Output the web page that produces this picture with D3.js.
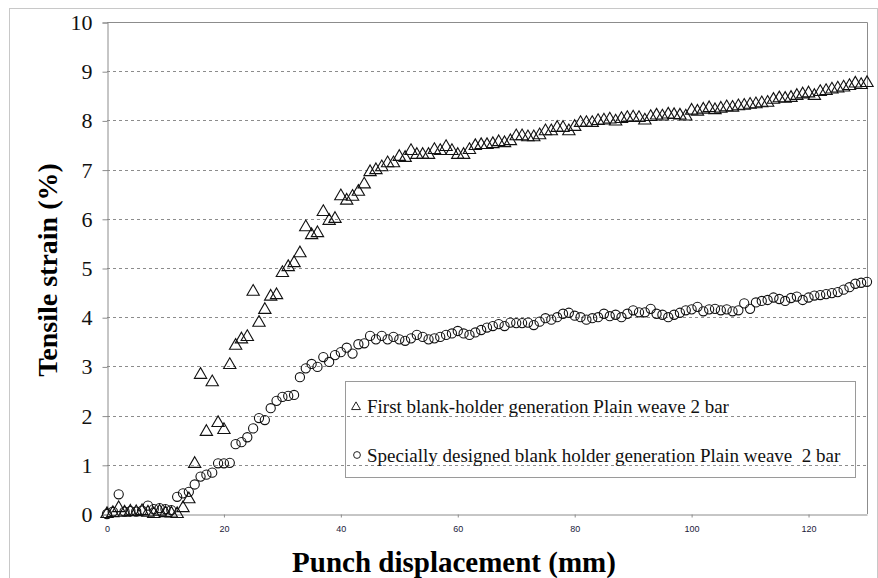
<!DOCTYPE html>
<html>
<head>
<meta charset="utf-8">
<script src="https://cdn.jsdelivr.net/npm/d3@7"></script>
<style>
  body { margin: 0; background: #fff; }
  svg { display: block; }
</style>
</head>
<body>
<svg id="drawspace" width="878" height="578"></svg>
<script>
// punch displacement (mm), one reading per mm
const displacement = d3.range(0, 131);

// first blank-holder generation, plain weave 2 bar
const firstStrain = [
  0, 0.02, 0.12, 0.03, 0.05, 0.04, 0.06, 0.03, 0.0, 0.05,
  0.02, 0.01, 0.0, 0.12, 0.3, 1.02, 2.83, 1.67, 2.68, 1.85,
  1.71, 3.03, 3.42, 3.55, 3.6, 4.52, 3.89, 4.15, 4.42, 4.45,
  4.9, 5.02, 5.1, 5.3, 5.83, 5.67, 5.71, 6.14, 5.96, 6.0,
  6.46, 6.37, 6.45, 6.55, 6.7, 6.95, 6.99, 7.05, 7.13, 7.13,
  7.26, 7.24, 7.38, 7.3, 7.3, 7.3, 7.4, 7.38, 7.46, 7.38,
  7.3, 7.3, 7.4, 7.48, 7.5, 7.5, 7.52, 7.56, 7.54, 7.58,
  7.68, 7.68, 7.66, 7.66, 7.7, 7.78, 7.78, 7.85, 7.85, 7.78,
  7.87, 7.95, 7.95, 7.95, 7.99, 8.0, 8.02, 7.98, 8.03, 8.05,
  8.06, 8.05, 8.0, 8.07, 8.1, 8.08, 8.12, 8.11, 8.1, 8.08,
  8.2, 8.18, 8.22, 8.25, 8.21, 8.24, 8.27, 8.26, 8.29, 8.3,
  8.32, 8.33, 8.35, 8.36, 8.42, 8.45, 8.44, 8.46, 8.5, 8.53,
  8.55, 8.5, 8.58, 8.6, 8.63, 8.65, 8.67, 8.7, 8.75, 8.72,
  8.76
];

// specially designed blank holder generation, plain weave 2 bar
const specialStrain = [
  0.0, 0.05, 0.4, 0.05, 0.06, 0.05, 0.07, 0.17, 0.1, 0.12,
  0.1, 0.08, 0.35, 0.42, 0.45, 0.6, 0.76, 0.8, 0.84, 1.03,
  1.03, 1.04, 1.42, 1.46, 1.56, 1.74, 1.95, 1.91, 2.15, 2.3,
  2.38, 2.4, 2.42, 2.78, 2.96, 3.05, 2.99, 3.19, 3.09, 3.23,
  3.29, 3.38, 3.26, 3.45, 3.47, 3.62, 3.55, 3.62, 3.55, 3.6,
  3.55, 3.52, 3.57, 3.64, 3.6, 3.55, 3.57, 3.6, 3.64, 3.67,
  3.72, 3.67, 3.64, 3.69, 3.74, 3.79, 3.82, 3.86, 3.82, 3.89,
  3.88, 3.88, 3.89, 3.84, 3.91, 3.98, 3.95, 4.0, 4.07, 4.09,
  4.03, 4.0, 3.95, 3.98, 4.0, 4.07, 4.02, 4.05, 4.0, 4.07,
  4.14, 4.1, 4.1, 4.17, 4.07, 4.05, 4.0, 4.05, 4.09, 4.14,
  4.16, 4.21, 4.12, 4.16, 4.17, 4.14, 4.16, 4.12, 4.14, 4.28,
  4.17, 4.3, 4.33, 4.35, 4.4, 4.37, 4.33, 4.39, 4.42, 4.35,
  4.4, 4.44, 4.45, 4.47, 4.49, 4.51, 4.56, 4.61, 4.68, 4.7,
  4.72
];

const yTicks = [0, 1, 2, 3, 4, 5, 6, 7, 8, 9, 10];
const xTicks = [0, 20, 40, 60, 80, 100, 120];
const legendLabels = [
  "First blank-holder generation Plain weave 2 bar",
  "Specially designed blank holder generation Plain weave  2 bar"
];

let drawspace = d3.select("#drawspace");
const plotLeft = 107, plotTop = 22, plotRight = 867, plotBottom = 514;
const serif = "'Liberation Serif', 'Times New Roman', Times, serif";

// outer chart frame
drawspace.append("rect")
  .attr("x", 9.5).attr("y", 8.5)
  .attr("width", 868).attr("height", 600)
  .attr("fill", "none")
  .attr("stroke", "#c8c8c8");

var xScale = d3.scaleLinear().domain([0, 130]).range([plotLeft, plotRight]);
var yScale = d3.scaleLinear().domain([0, 10]).range([plotBottom, plotTop]);

// gridlines
drawspace.append("g")
  .selectAll("line")
  .data(yTicks.filter((d) => d > 0 && d < 10))
  .enter()
  .append("line")
  .attr("x1", plotLeft).attr("x2", plotRight)
  .attr("y1", (d) => Math.round(yScale(d)) + 0.5)
  .attr("y2", (d) => Math.round(yScale(d)) + 0.5)
  .attr("stroke", "#8c8c8c")
  .attr("stroke-dasharray", "3,3");

// plot area frame (top and right)
drawspace.append("path")
  .attr("d", `M${plotLeft},${plotTop + 0.5}H${plotRight + 0.5}V${plotBottom}`)
  .attr("fill", "none")
  .attr("stroke", "#8c8c8c");

// y axis
var yAxis = drawspace.append("g")
  .attr("transform", "translate(" + (plotLeft + 0.5) + ",0.5)")
  .call(d3.axisLeft(yScale).tickValues(yTicks).tickSize(5).tickPadding(10));
yAxis.select(".domain").attr("stroke", "#8c8c8c");
yAxis.selectAll(".tick line").attr("stroke", "#8c8c8c");
yAxis.selectAll("text")
  .attr("font-family", serif)
  .attr("font-size", "22px")
  .attr("fill", "#111");

// x axis
var xAxis = drawspace.append("g")
  .attr("transform", "translate(0," + (plotBottom + 0.5) + ")")
  .call(d3.axisBottom(xScale).tickValues(xTicks).tickSize(3).tickSizeOuter(0).tickPadding(8));
xAxis.select(".domain").attr("stroke", "#8c8c8c");
xAxis.selectAll(".tick line").attr("stroke", "#8c8c8c");
xAxis.selectAll("text")
  .attr("font-family", "'Liberation Sans', Arial, sans-serif")
  .attr("font-size", "9px")
  .attr("fill", "#1a1a3a");

// axis titles
drawspace.append("text")
  .attr("x", 454).attr("y", 572)
  .attr("text-anchor", "middle")
  .attr("font-family", serif)
  .attr("font-weight", "bold")
  .attr("font-size", "29px")
  .text("Punch displacement (mm)");

drawspace.append("text")
  .attr("transform", "translate(57,270) rotate(-90)")
  .attr("text-anchor", "middle")
  .attr("font-family", serif)
  .attr("font-weight", "bold")
  .attr("font-size", "28px")
  .text("Tensile strain (%)");

// markers
var triangle = d3.symbol().type(d3.symbolTriangle).size(66);

drawspace.append("g")
  .selectAll("path")
  .data(displacement)
  .enter()
  .append("path")
  .attr("d", triangle)
  .attr("transform", (d, i) => "translate(" + xScale(d) + "," + yScale(firstStrain[i]) + ")")
  .attr("fill", "none")
  .attr("stroke", "#111")
  .attr("stroke-width", 1.1);

drawspace.append("g")
  .selectAll("circle")
  .data(displacement)
  .enter()
  .append("circle")
  .attr("cx", (d) => xScale(d))
  .attr("cy", (d, i) => yScale(specialStrain[i]))
  .attr("r", 4.6)
  .attr("fill", "none")
  .attr("stroke", "#111")
  .attr("stroke-width", 1.1);

// legend
var legend = drawspace.append("g");
legend.append("rect")
  .attr("x", 345.5).attr("y", 381.5)
  .attr("width", 510).attr("height", 96)
  .attr("fill", "none")
  .attr("stroke", "#9a9a9a");

legend.append("path")
  .attr("d", d3.symbol().type(d3.symbolTriangle).size(34))
  .attr("transform", "translate(356,407)")
  .attr("fill", "none")
  .attr("stroke", "#222");

legend.append("circle")
  .attr("cx", 357).attr("cy", 455)
  .attr("r", 3.4)
  .attr("fill", "none")
  .attr("stroke", "#222");

legend.selectAll("text")
  .data(legendLabels)
  .enter()
  .append("text")
  .attr("x", 367)
  .attr("y", (d, i) => 413 + i * 49)
  .attr("font-family", serif)
  .attr("font-size", "19px")
  .attr("fill", "#111")
  .style("white-space", "pre")
  .text((d) => d);
</script>
</body>
</html>
